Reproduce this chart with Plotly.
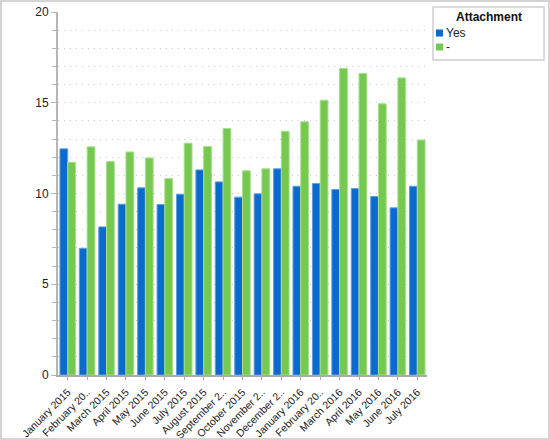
import plotly.graph_objects as go

months = ['January 2015', 'February 20..', 'March 2015', 'April 2015', 'May 2015',
          'June 2015', 'July 2015', 'August 2015', 'September 2..', 'October 2015',
          'November 2..', 'December 2..', 'January 2016', 'February 20..',
          'March 2016', 'April 2016', 'May 2016', 'June 2016', 'July 2016']
# distinct keys so the repeated truncated label doesn't merge two categories
month_keys = ['m%02d' % i for i in range(len(months))]

yes_vals = [12.46, 6.98, 8.16, 9.41, 10.31, 9.39, 9.96, 11.30, 10.64, 9.80,
            9.98, 11.36, 10.40, 10.55, 10.22, 10.27, 9.83, 9.21, 10.40]
dash_vals = [11.72, 12.57, 11.76, 12.29, 11.96, 10.82, 12.77, 12.59, 13.58, 11.25,
             11.36, 13.43, 13.95, 15.14, 16.89, 16.61, 14.94, 16.37, 12.95]

series_names = ['Yes', '-']
series_colors = ['#0a6bcc', '#76c850']
series_edges = ['#5a9ee6', '#a6e08a']

W, H = 550, 440
ml, mr, mt, mb = 58, 123, 12, 65
pw = W - ml - mr
ph = H - mt - mb


def px_x(x):
    return (x - ml) / pw


def px_y(y):
    return 1 - (y - mt) / ph


fig = go.Figure()
for name, vals, col, edge in zip(series_names, [yes_vals, dash_vals], series_colors, series_edges):
    fig.add_trace(go.Bar(x=month_keys, y=vals, name=name, showlegend=False,
                         marker=dict(color=col, line=dict(color=edge, width=1))))

# legend drawn by hand: framed box, centred bold title, small square swatches
shapes = [
    dict(type='rect', xref='paper', yref='paper',
         x0=px_x(433), x1=px_x(544), y0=px_y(60), y1=px_y(7),
         line=dict(color='#cfcfcf', width=1.5), fillcolor='white'),
    dict(type='rect', xref='paper', yref='paper',
         x0=px_x(1), x1=px_x(W - 1), y0=px_y(H - 1), y1=px_y(1),
         line=dict(color='#d4d4d4', width=2), fillcolor='rgba(0,0,0,0)'),
]
annotations = [
    dict(text='<b>Attachment</b>', xref='paper', yref='paper',
         x=px_x(488.5), y=px_y(17), xanchor='center', yanchor='middle',
         showarrow=False, font=dict(size=12, color='#111')),
]
for i, (name, col) in enumerate(zip(series_names, series_colors)):
    yc = 33 + i * 14
    shapes.append(dict(type='rect', xref='paper', yref='paper',
                       x0=px_x(436), x1=px_x(443), y0=px_y(yc + 3.5), y1=px_y(yc - 3.5),
                       line=dict(width=0), fillcolor=col))
    annotations.append(dict(text=name, xref='paper', yref='paper',
                            x=px_x(444), y=px_y(yc), xanchor='left', yanchor='middle',
                            showarrow=False, font=dict(size=12, color='#222')))

fig.update_layout(
    width=W, height=H,
    margin=dict(l=ml, r=mr, t=mt, b=mb, autoexpand=False),
    paper_bgcolor='white', plot_bgcolor='white',
    barmode='group', bargap=0.2, bargroupgap=0,
    font=dict(family='Liberation Sans, Arial, sans-serif', size=11, color='#222'),
    showlegend=False,
    shapes=shapes,
    annotations=annotations,
)

fig.update_xaxes(
    tickmode='array', tickvals=month_keys, ticktext=months,
    tickangle=-45, tickfont=dict(size=10.5), automargin=False,
    showline=True, linecolor='#aaaaaa', linewidth=2,
    ticks='outside', ticklen=3, tickcolor='#aaaaaa', ticklabelstandoff=2,
    showgrid=False,
)
fig.update_yaxes(
    range=[0, 20], tickvals=[0, 5, 10, 15, 20], tickfont=dict(size=12), automargin=False,
    showline=True, linecolor='#b5b5b5', linewidth=2,
    ticks='outside', ticklen=5, tickcolor='#b5b5b5',
    showgrid=True, gridcolor='#c8c8c8', griddash='1px,5px', gridwidth=1,
    minor=dict(dtick=1, ticks='outside', ticklen=4, tickcolor='#b5b5b5',
               showgrid=True, gridcolor='#c8c8c8', griddash='1px,5px', gridwidth=1),
    zeroline=False,
)

# drop the page's default 8px body margin so the figure sits at the window corner
fig.write_html('out.html', config={'displayModeBar': False},
               post_script="document.body.style.margin='0';")
